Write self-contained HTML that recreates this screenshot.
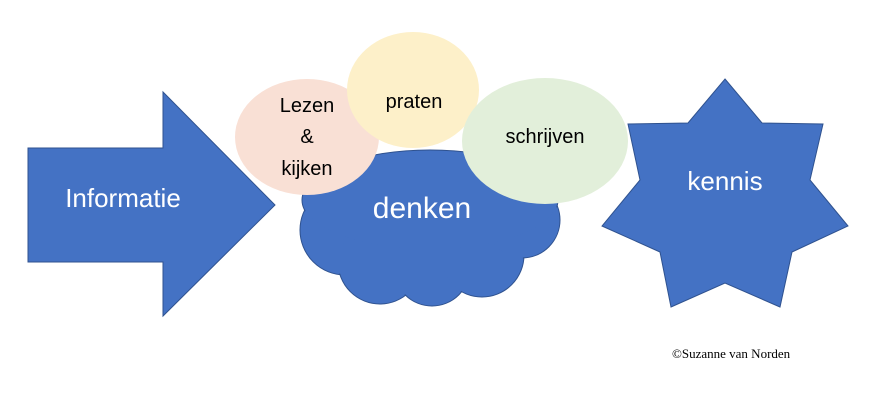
<!DOCTYPE html>
<html><head><style>
body{margin:0;background:#fff;width:875px;height:406px;overflow:hidden}
text{font-family:"Liberation Sans",sans-serif}
</style></head><body>
<svg width="875" height="406" xmlns="http://www.w3.org/2000/svg">
<polygon points="28,148 163,148 163,92 275,205 163,316 163,262 28,262" fill="#4472c4" stroke="#2f528f" stroke-width="1"/>
<text x="123" y="207" font-size="26" fill="#fff" text-anchor="middle">Informatie</text>
<g fill="#4472c4" stroke="#2f528f" stroke-width="1">
<circle cx="345" cy="230" r="45"/><circle cx="380" cy="262" r="42"/><circle cx="432" cy="268" r="38"/><circle cx="482" cy="255" r="42"/><circle cx="522" cy="220" r="38"/><ellipse cx="430" cy="200" rx="128" ry="50"/>
</g>
<g fill="#4472c4">
<circle cx="345" cy="230" r="44"/><circle cx="380" cy="262" r="41"/><circle cx="432" cy="268" r="37"/><circle cx="482" cy="255" r="41"/><circle cx="522" cy="220" r="37"/><ellipse cx="430" cy="200" rx="127" ry="49"/>
</g>
<text x="422" y="218" font-size="30" fill="#fff" text-anchor="middle">denken</text>
<ellipse cx="307" cy="137" rx="72" ry="58" fill="#f9e0d5"/>
<ellipse cx="413" cy="90" rx="66" ry="58" fill="#fdf0c9"/>
<ellipse cx="545" cy="141" rx="83" ry="63" fill="#e2efda"/>
<text x="307" y="112" font-size="20" fill="#000" text-anchor="middle">Lezen</text>
<text x="307" y="143" font-size="20" fill="#000" text-anchor="middle">&amp;</text>
<text x="307" y="175" font-size="20" fill="#000" text-anchor="middle">kijken</text>
<text x="414" y="108" font-size="20" fill="#000" text-anchor="middle">praten</text>
<text x="545" y="143" font-size="20" fill="#000" text-anchor="middle">schrijven</text>
<polygon points="725,79 762,123 823,124 810,180 848,226 792,252 780,307 725,283 671,307 660,252 602,226 640,180 628,124 688,123" fill="#4472c4" stroke="#2f528f" stroke-width="1"/>
<text x="725" y="190" font-size="26" fill="#fff" text-anchor="middle">kennis</text>
<text x="672" y="358" font-size="13" fill="#000" style="font-family:'Liberation Serif',serif">©Suzanne van Norden</text>
</svg>
</body></html>
